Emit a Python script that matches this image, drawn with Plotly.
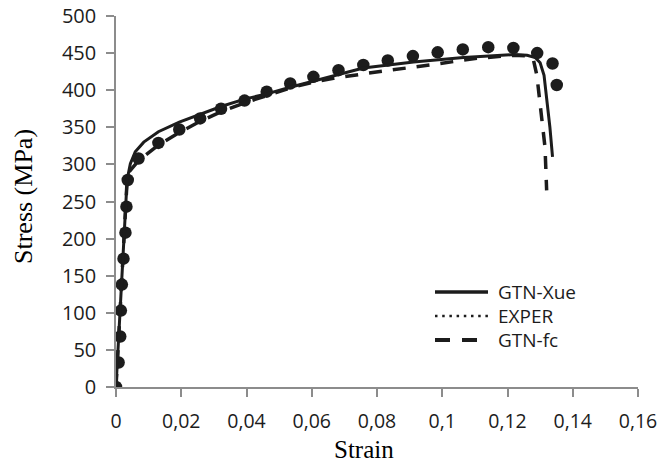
import plotly.graph_objects as go

# ---- data ----
exper_strain = [0, 0.0008, 0.0013, 0.0015, 0.0018, 0.0023, 0.0029, 0.0032, 0.0036,
                0.0069, 0.0130, 0.0194, 0.0258, 0.0322, 0.0394, 0.0462, 0.0534,
                0.0605, 0.0682, 0.0758, 0.0833, 0.0910, 0.0986, 0.1063, 0.1141,
                0.1218, 0.1291, 0.1338, 0.1351]
exper_stress = [0, 33, 68, 103, 138, 173, 208, 243, 279,
                308, 329, 347, 362, 375, 386, 398, 409,
                418, 427, 434, 440, 446, 451, 455, 458,
                457, 450, 436, 407]

xue_strain = [0, 0.0012, 0.0024, 0.0034, 0.0044, 0.0059, 0.0085, 0.0130, 0.0194,
              0.0258, 0.0322, 0.0394, 0.0462, 0.0534, 0.0656, 0.0758, 0.0912,
              0.1065, 0.1218, 0.1260, 0.1285, 0.1300, 0.1312, 0.1322, 0.1330, 0.1338]
xue_stress = [0, 100, 200, 279, 301, 317, 330, 344, 357,
              368, 378, 388, 395, 404, 418, 430, 438,
              444, 448, 447, 444, 437, 420, 385, 350, 310]

fc_strain = [0, 0.0012, 0.0024, 0.0033, 0.0040, 0.0069, 0.0130, 0.0194, 0.0258,
             0.0322, 0.0394, 0.0462, 0.0534, 0.0605, 0.0667, 0.0774, 0.0881,
             0.0993, 0.1106, 0.1218, 0.1268, 0.1280, 0.1290, 0.1300, 0.1315, 0.1320]
fc_stress = [0, 100, 200, 270, 290, 305, 326, 343, 358,
             371, 383, 393, 403, 411, 416, 423, 429,
             436, 443, 447, 446, 440, 420, 377, 323, 265]

x_tickvals = [0, 0.02, 0.04, 0.06, 0.08, 0.10, 0.12, 0.14, 0.16]
x_ticktext = ["0", "0,02", "0,04", "0,06", "0,08", "0,1", "0,12", "0,14", "0,16"]
y_tickvals = [0, 50, 100, 150, 200, 250, 300, 350, 400, 450, 500]

series_names = ["GTN-Xue", "EXPER", "GTN-fc"]
x_title = "Strain"
y_title = "Stress (MPa)"

INK = "#1c1c1c"
AXIS = "#8c8c8c"
SANS = "Open Sans, Liberation Sans, sans-serif"
SERIF = "Liberation Serif, Times New Roman, serif"

W, H = 657, 465
ML, MR, MT, MB = 116, 19, 16, 78
PW, PH = W - ML - MR, H - MT - MB


def px(xp):
    return (xp - ML) / PW


def py(yp):
    return (H - MB - yp) / PH


fig = go.Figure()

# EXPER markers
fig.add_trace(go.Scatter(x=exper_strain, y=exper_stress, mode="markers", name=series_names[1],
                         marker=dict(size=12.5, color=INK), showlegend=False))
# GTN-fc dashed
fig.add_trace(go.Scatter(x=fc_strain, y=fc_stress, mode="lines", name=series_names[2],
                         line=dict(color=INK, width=3.5, dash="13px,11px"),
                         showlegend=False))
# GTN-Xue solid
fig.add_trace(go.Scatter(x=xue_strain, y=xue_stress, mode="lines", name=series_names[0],
                         line=dict(color=INK, width=3), showlegend=False))

# manual legend (line samples + labels)
legend_rows = [(292, dict(color=INK, width=3.5, dash="solid")),
               (316, dict(color=INK, width=2.5, dash="2.5px,4.7px")),
               (340, dict(color=INK, width=4, dash="15px,12px"))]
for name, (yc, ln) in zip(series_names, legend_rows):
    fig.add_shape(type="line", xref="paper", yref="paper",
                  x0=px(435), x1=px(488), y0=py(yc), y1=py(yc), line=ln)
    fig.add_annotation(xref="paper", yref="paper", x=px(496), y=py(yc),
                       xanchor="left", yanchor="middle", showarrow=False, text=name,
                       font=dict(family=SANS, size=19, color=INK))

# axis titles
fig.add_annotation(xref="paper", yref="paper", x=px(364), y=py(449), text=x_title,
                   showarrow=False, xanchor="center", yanchor="middle",
                   font=dict(family=SERIF, size=25, color="black"))
fig.add_annotation(xref="paper", yref="paper", x=px(24), y=py(197), text=y_title,
                   showarrow=False, xanchor="center", yanchor="middle", textangle=-90,
                   font=dict(family=SERIF, size=26, color="black"))

fig.update_layout(
    width=W, height=H,
    margin=dict(l=ML, r=MR, t=MT, b=MB, autoexpand=False),
    paper_bgcolor="white", plot_bgcolor="white",
    font=dict(family=SANS, size=20, color=INK),
    showlegend=False,
    xaxis=dict(range=[0, 0.16], tickvals=x_tickvals, ticktext=x_ticktext,
               showgrid=False, zeroline=False, showline=True, linecolor=AXIS,
               linewidth=1.5, ticks="outside", ticklen=8, tickcolor=AXIS, tickwidth=1.5,
               automargin=False, ticklabelstandoff=8, ticklabeloverflow="allow",
               tickfont=dict(family=SANS, size=19.5, color=INK)),
    yaxis=dict(range=[0, 500], tickvals=y_tickvals,
               showgrid=False, zeroline=False, showline=True, linecolor=AXIS,
               linewidth=1.5, ticks="outside", ticklen=8, tickcolor=AXIS, tickwidth=1.5,
               automargin=False, ticklabelstandoff=6,
               tickfont=dict(family=SANS, size=20, color=INK)),
)

fig.write_html("out.html")
